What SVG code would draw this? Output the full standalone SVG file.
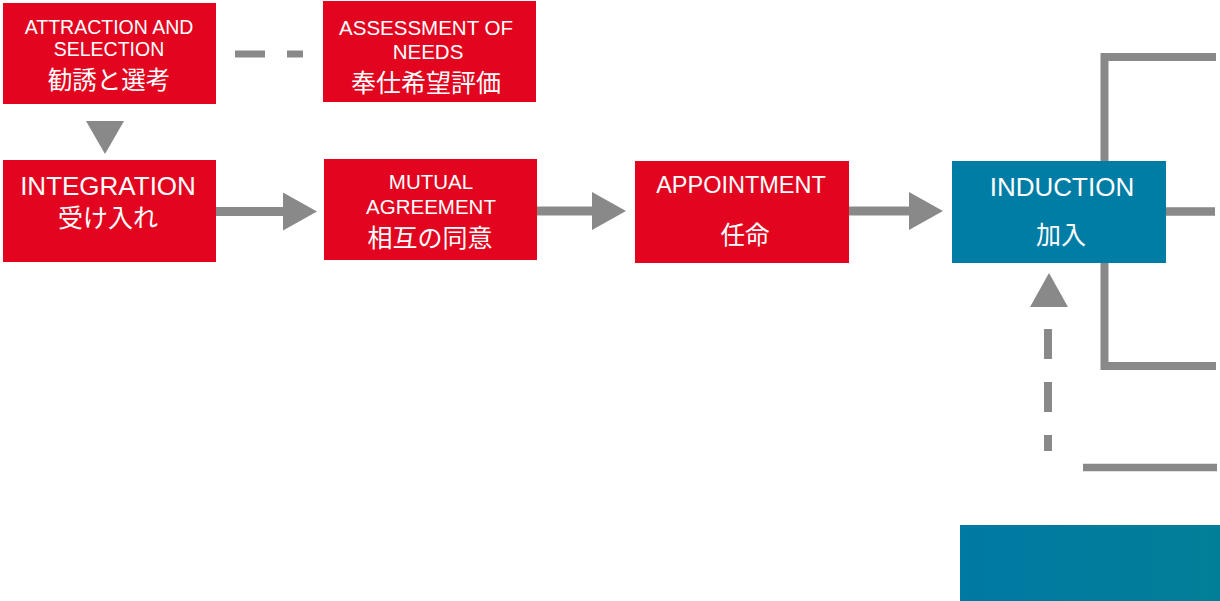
<svg xmlns="http://www.w3.org/2000/svg" width="1220" height="601" viewBox="0 0 1220 601">
<style>
.red{fill:#E3051F}
.teal{fill:#007DA5}
.t{fill:#FFFFFF;font-family:"Liberation Sans",Arial,"Noto Sans CJK JP",sans-serif;text-anchor:middle}
.j{fill:#FFFFFF;font-family:"Noto Sans CJK JP","Liberation Sans",sans-serif;text-anchor:middle}
.ln{stroke:#898989;fill:none}
.hd{fill:#898989}
</style>
<defs>
<marker id="arrow" markerUnits="userSpaceOnUse" markerWidth="34" markerHeight="38" viewBox="0 0 34 38" refX="0" refY="19" orient="auto">
<path d="M0,0 L34,19 L0,38 Z" fill="#898989"/>
</marker>
<linearGradient id="tealGrad" x1="0" y1="0" x2="1" y2="0">
<stop offset="0" stop-color="#0079A3"/>
<stop offset="1" stop-color="#027F98"/>
</linearGradient>
</defs>
<g id="connectors">
<path class="ln" d="M235,54 H303" stroke-width="7" stroke-dasharray="30 22"/>
<polygon class="hd" points="86,121 124,121 105,154"/>
<path class="ln" d="M216,211.5 H283" stroke-width="9" marker-end="url(#arrow)"/>
<path class="ln" d="M537,211 H592" stroke-width="9" marker-end="url(#arrow)"/>
<path class="ln" d="M849,211 H909" stroke-width="9" marker-end="url(#arrow)"/>
<path class="ln" d="M1216,57 H1104.5 V366 H1216" stroke-width="8" stroke-linejoin="miter"/>
<path class="ln" d="M1166,211.5 H1215" stroke-width="8.5"/>
<polygon class="hd" points="1030,307 1068,307 1049,273"/>
<path class="ln" d="M1048,329 V451" stroke-width="8" stroke-dasharray="30 23"/>
<path class="ln" d="M1083,467.5 H1217" stroke-width="7.5"/>
</g>
<g id="attraction">
<rect class="red" x="3" y="3" width="213" height="101"/>
<text class="t" x="109" y="33.5" font-size="19.5">ATTRACTION AND</text>
<text class="t" x="109" y="56" font-size="19.5">SELECTION</text>
<text class="j" x="109" y="88.5" font-size="24.5">勧誘と選考</text>
</g>
<g id="assessment">
<rect class="red" x="323" y="1" width="213" height="101"/>
<text class="t" x="426" y="34.5" font-size="20.5">ASSESSMENT OF</text>
<text class="t" x="428" y="59" font-size="20.5">NEEDS</text>
<text class="j" x="426" y="91.5" font-size="25">奉仕希望評価</text>
</g>
<g id="integration">
<rect class="red" x="3" y="160" width="213" height="102"/>
<text class="t" x="108" y="195" font-size="26">INTEGRATION</text>
<text class="j" x="108" y="227" font-size="25">受け入れ</text>
</g>
<g id="mutual">
<rect class="red" x="324" y="159" width="213" height="101"/>
<text class="t" x="431" y="188.5" font-size="20.5">MUTUAL</text>
<text class="t" x="431" y="214" font-size="20.5">AGREEMENT</text>
<text class="j" x="430" y="247" font-size="25">相互の同意</text>
</g>
<g id="appointment">
<rect class="red" x="635" y="161" width="214" height="102"/>
<text class="t" x="741" y="193" font-size="23.5">APPOINTMENT</text>
<text class="j" x="745" y="244" font-size="24.5">任命</text>
</g>
<g id="induction">
<rect class="teal" x="952" y="161" width="214" height="102"/>
<text class="t" x="1062" y="196" font-size="26">INDUCTION</text>
<text class="j" x="1061" y="244" font-size="25">加入</text>
</g>
<g id="bottom-box">
<rect x="960" y="525" width="260" height="76" fill="url(#tealGrad)"/>
</g>
</svg>
